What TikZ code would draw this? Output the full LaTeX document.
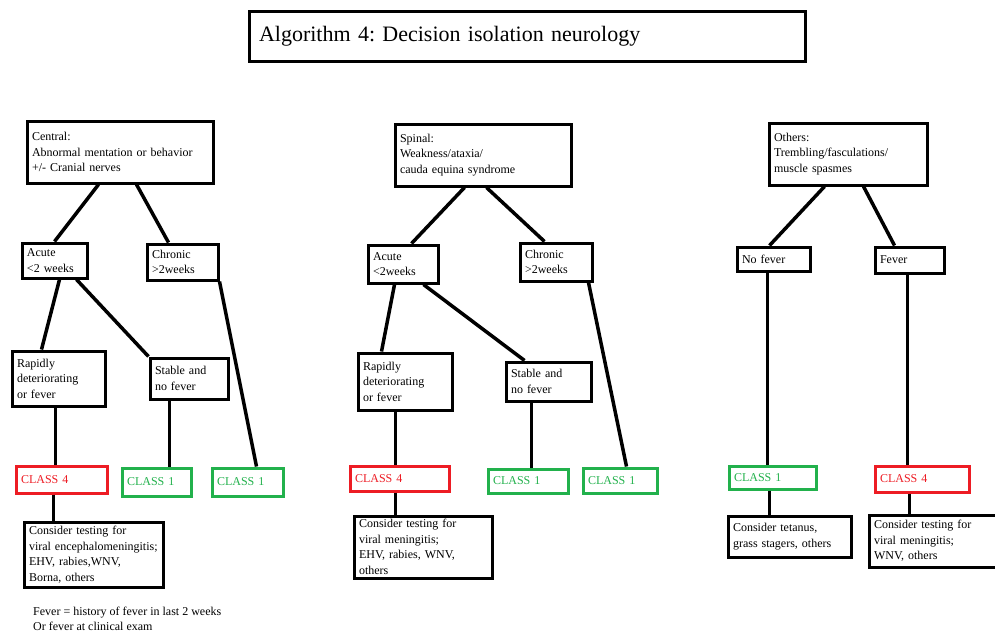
\documentclass[tikz,border=0pt]{standalone}
\usepackage{fontspec}
\setmainfont{Liberation Serif}
\usepackage{tikz}
\usetikzlibrary{calc}
\definecolor{classred}{RGB}{237,28,36}
\definecolor{classgreen}{RGB}{34,177,76}
\frenchspacing

\tikzset{
  box/.style={draw,line width=3pt,anchor=north west,align=left,inner xsep=5pt,inner ysep=2pt,
    font=\fontsize{12}{15.5}\selectfont},
  redbox/.style={box,draw=classred,text=classred},
  greenbox/.style={box,draw=classgreen,text=classgreen},
  link/.style={line width=3.5pt}
}

\begin{document}
\begin{tikzpicture}[x=1pt,y=-1pt]
    \useasboundingbox (0,0) rectangle (995,635);
    % title
    \node[box,inner xsep=10pt,text width=536pt,minimum height=50pt,font=\fontsize{22}{26}\selectfont]
        (title) at (247.5,9.5) {Algorithm 4: Decision isolation neurology};

    % central
    \node[box,text width=176pt,minimum height=62pt] (cenC) at (25.5,119.5)
        {Central:\\Abnormal mentation or behavior\\+/- Cranial nerves};
    \node[box,text width=55pt,minimum height=35pt] (acuC) at (20.5,241.5) {Acute\\<2 weeks};
    \node[box,text width=61pt,minimum height=36pt] (chrC) at (145.5,242.5) {Chronic\\>2weeks};
    \node[box,text width=83pt,minimum height=55pt] (rapC) at (10.5,349.5) {Rapidly\\deteriorating\\or fever};
    \node[box,text width=68pt,minimum height=41pt] (staC) at (148.5,356.5) {Stable and\\no fever};
    \node[redbox,text width=81pt,minimum height=27pt] (cfourC) at (14.5,464.5) {CLASS 4};
    \node[greenbox,text width=59pt,minimum height=28pt] (coneCa) at (120.5,466.5) {CLASS 1};
    \node[greenbox,text width=61pt,minimum height=28pt] (coneCb) at (210.5,466.5) {CLASS 1};
    \node[box,text width=129pt,minimum height=65pt] (conC) at (22.5,520.5)
        {Consider testing for\\viral encephalomeningitis;\\EHV, rabies,WNV,\\Borna, others};

    % spinal
    \node[box,text width=166pt,minimum height=62pt] (spiS) at (393.5,122.5)
        {Spinal:\\Weakness/ataxia/\\cauda equina syndrome};
    \node[box,text width=60pt,minimum height=38pt] (acuS) at (366.5,243.5) {Acute\\<2weeks};
    \node[box,text width=62pt,minimum height=38pt] (chrS) at (518.5,241.5) {Chronic\\>2weeks};
    \node[box,text width=84pt,minimum height=57pt] (rapS) at (356.5,351.5) {Rapidly\\deteriorating\\or fever};
    \node[box,text width=75pt,minimum height=39pt] (staS) at (504.5,360.5) {Stable and\\no fever};
    \node[redbox,text width=89pt,minimum height=25pt] (cfourS) at (348.5,464.5) {CLASS 4};
    \node[greenbox,text width=70pt,minimum height=24pt] (coneSa) at (486.5,467.5) {CLASS 1};
    \node[greenbox,text width=64pt,minimum height=25pt] (coneSb) at (581.5,466.5) {CLASS 1};
    \node[box,text width=128pt,minimum height=62pt] (conS) at (352.5,514.5)
        {Consider testing for\\viral meningitis;\\EHV, rabies, WNV,\\others};

    % others
    \node[box,text width=148pt,minimum height=62pt] (othO) at (767.5,121.5)
        {Others:\\Trembling/fasculations/\\muscle spasmes};
    \node[box,text width=63pt,minimum height=24pt] (nofO) at (735.5,245.5) {No fever};
    \node[box,text width=59pt,minimum height=26pt] (fevO) at (873.5,245.5) {Fever};
    \node[greenbox,text width=77pt,minimum height=23pt] (coneO) at (727.5,464.5) {CLASS 1};
    \node[redbox,text width=84pt,minimum height=26pt] (cfourO) at (873.5,464.5) {CLASS 4};
    \node[box,text width=113pt,minimum height=41pt] (tetO) at (726.5,514.5)
        {Consider tetanus,\\grass stagers, others};
    \node[box,text width=124pt,minimum height=52pt] (tstO) at (867.5,513.5)
        {Consider testing for\\viral meningitis;\\WNV, others};

    \node[anchor=west,align=left,inner sep=0pt,font=\fontsize{12}{15}\selectfont] (note) at (33,618.5)
        {Fever = history of fever in last 2 weeks\\Or fever at clinical exam};

    % links central
    \draw[link] ([xshift=-21.5pt]cenC.south) -- (acuC.north);
    \draw[link] ([xshift=16.5pt]cenC.south) -- ([xshift=-14pt]chrC.north);
    \draw[link] ([xshift=5pt]acuC.south) -- ([xshift=-17pt]rapC.north);
    \draw[link] ([xshift=22pt]acuC.south) -- (staC.north west);
    \draw[link] (chrC.south east) -- ([xshift=9pt]coneCb.north);
    \draw[link] ([xshift=-3pt]rapC.south) -- ([xshift=-3pt]rapC.south |- cfourC.north);
    \draw[link] ([xshift=-19.5pt]staC.south) -- ([xshift=-19.5pt]staC.south |- coneCa.north);
    \draw[link] ([xshift=-8pt]cfourC.south) -- ([xshift=-8pt]cfourC.south |- conC.north);

    % links spinal
    \draw[link] ([xshift=-18.5pt]spiS.south) -- ([xshift=8.5pt]acuS.north);
    \draw[link] ([xshift=3.5pt]spiS.south) -- ([xshift=-11.5pt]chrS.north);
    \draw[link] ([xshift=-8.5pt]acuS.south) -- ([xshift=-23.5pt]rapS.north);
    \draw[link] ([xshift=20.5pt]acuS.south) -- ([xshift=-24pt]staS.north);
    \draw[link] ([xshift=32.5pt]chrS.south) -- ([xshift=6.5pt]coneSb.north);
    \draw[link] ([xshift=-9.5pt]rapS.south) -- ([xshift=-9.5pt]rapS.south |- cfourS.north);
    \draw[link] ([xshift=-17pt]staS.south) -- ([xshift=-17pt]staS.south |- coneSa.north);
    \draw[link] ([xshift=-4pt]cfourS.south) -- ([xshift=-4pt]cfourS.south |- conS.north);

    % links others
    \draw[link] ([xshift=-23.5pt]othO.south) -- ([xshift=-4pt]nofO.north);
    \draw[link] ([xshift=15.5pt]othO.south) -- ([xshift=-15pt]fevO.north);
    \draw[link] ([xshift=-6pt]nofO.south) -- ([xshift=-6pt]nofO.south |- coneO.north);
    \draw[link] ([xshift=-2pt]fevO.south) -- ([xshift=-2pt]fevO.south |- cfourO.north);
    \draw[link] ([xshift=-3pt]coneO.south) -- ([xshift=-3pt]coneO.south |- tetO.north);
    \draw[link] ([xshift=-12.5pt]cfourO.south) -- ([xshift=-12.5pt]cfourO.south |- tstO.north);
\end{tikzpicture}
\end{document}
